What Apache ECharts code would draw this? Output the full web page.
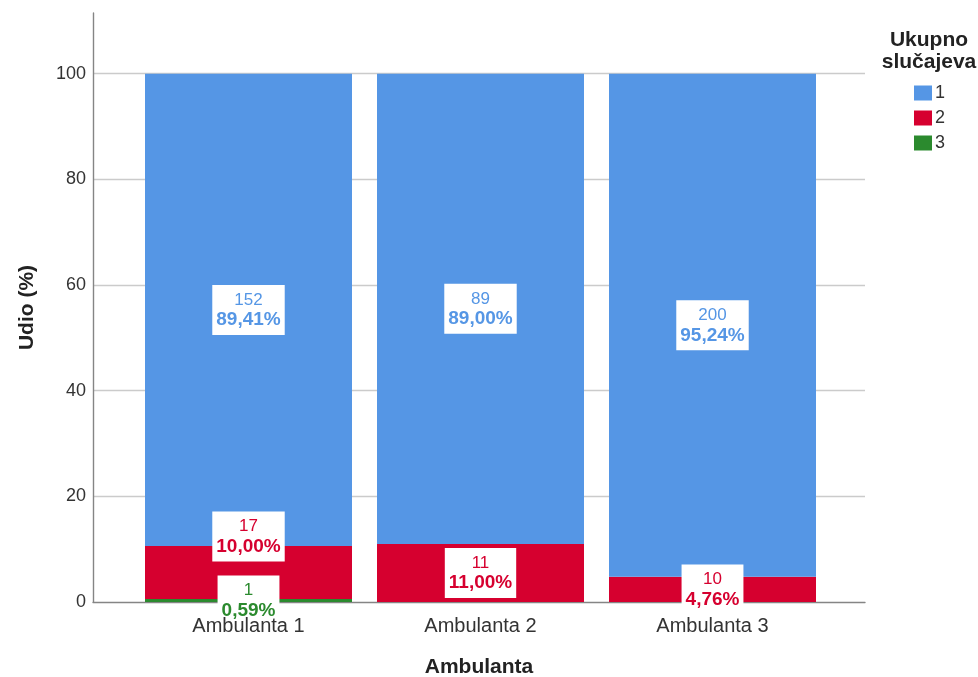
<!DOCTYPE html>
<html>
<head>
<meta charset="utf-8">
<script src="https://cdn.jsdelivr.net/npm/echarts@6/dist/echarts.min.js"></script>
<style>html,body{margin:0;padding:0;background:#fff}#c{width:978px;height:677px}</style>
</head>
<body>
<div id="c"></div>
<script>
var categories = ['Ambulanta 1', 'Ambulanta 2', 'Ambulanta 3'];
var legendNames = ['1', '2', '3'];
// percentages (Udio %) and counts per group
var pct1 = [89.41, 89.00, 95.24];
var cnt1 = [152, 89, 200];
var pct2 = [10.00, 11.00, 4.76];
var cnt2 = [17, 11, 10];
var pct3 = [0.59, null, null];
var cnt3 = [1, null, null];

var colors = {'1': '#5596e5', '2': '#d6002f', '3': '#2b8a2e'};
var FONT = 'Liberation Sans, Arial, sans-serif';
var YMAX = 111.5;

function fmtPct(v) { return v.toFixed(2).replace('.', ',') + '%'; }

function buildData(pcts, cnts, name) {
  var out = [];
  for (var i = 0; i < pcts.length; i++) {
    if (pcts[i] == null) { out.push('-'); continue; }
    var item = { value: pcts[i], cnt: cnts[i] };
    // SPSS moved this label up to avoid colliding with the tiny green one
    if (name === '2' && i === 0) item.label = { offset: [0, -36] };
    out.push(item);
  }
  return out;
}

function makeSeries(name, pcts, cnts) {
  var col = colors[name];
  return {
    name: name,
    type: 'bar',
    stack: 'total',
    xAxisIndex: 0,
    yAxisIndex: 0,
    barWidth: 207,
    itemStyle: { color: col },
    data: buildData(pcts, cnts, name),
    label: {
      show: true,
      position: 'inside',
      backgroundColor: '#ffffff',
      padding: [5, 4, 5, 4],
      formatter: function (p) {
        return '{c|' + p.data.cnt + '}\n{p|' + fmtPct(p.value) + '}';
      },
      rich: {
        c: { color: col, fontSize: 17, fontFamily: FONT, lineHeight: 20, align: 'center' },
        p: { color: col, fontSize: 19, fontWeight: 'bold', fontFamily: FONT, lineHeight: 20, align: 'center' }
      }
    },
    emphasis: { disabled: true }
  };
}

var chart = echarts.init(document.getElementById('c'));
chart.setOption({
  animation: false,
  backgroundColor: '#ffffff',
  textStyle: { fontFamily: FONT },
  grid: [
    { left: 132.5, right: 149.5, top: 13, bottom: 75, outerBoundsMode: 'none', containLabel: false },
    { left: 93, right: 113, top: 13, bottom: 75, outerBoundsMode: 'none', containLabel: false }
  ],
  title: {
    text: 'Ukupno\nslučajeva',
    left: 924, top: 24,
    textAlign: 'center',
    textStyle: { fontSize: 21, fontWeight: 'bold', color: '#222', fontFamily: FONT, lineHeight: 22 }
  },
  legend: {
    data: legendNames,
    orient: 'vertical',
    left: 909, top: 79,
    itemWidth: 18, itemHeight: 15, itemGap: 7,
    icon: 'rect',
    textStyle: { fontSize: 18, color: '#333', fontFamily: FONT, padding: [0, 0, 0, -2] },
    selectedMode: false
  },
  xAxis: [
    {
      gridIndex: 0,
      type: 'category',
      data: categories,
      z: 10,
      axisLine: { show: false },
      axisTick: { show: false },
      splitLine: { show: false },
      axisLabel: { fontSize: 20, color: '#333', margin: 14, fontFamily: FONT }
    },
    {
      gridIndex: 1,
      type: 'value',
      min: 0, max: 1,
      name: 'Ambulanta',
      nameLocation: 'middle',
      nameGap: 55,
      nameTextStyle: { fontSize: 21, fontWeight: 'bold', color: '#222', fontFamily: FONT },
      axisLine: { show: true, onZero: false, lineStyle: { color: '#858585', width: 1.4 } },
      axisTick: { show: false },
      splitLine: { show: false },
      axisLabel: { show: false }
    }
  ],
  yAxis: [
    {
      gridIndex: 0,
      type: 'value',
      min: 0, max: YMAX,
      show: false,
      splitLine: { show: false }
    },
    {
      gridIndex: 1,
      type: 'value',
      min: 0, max: YMAX,
      interval: 20,
      name: 'Udio (%)',
      nameLocation: 'middle',
      nameGap: 55,
      nameRotate: 90,
      nameTextStyle: { fontSize: 21, fontWeight: 'bold', color: '#222', fontFamily: FONT },
      axisLine: { show: true, onZero: false, lineStyle: { color: '#858585', width: 1.4 } },
      axisTick: { show: false },
      splitLine: { show: true, showMaxLine: false, showMinLine: false, lineStyle: { color: '#cbcbcb', width: 1.3 } },
      axisLabel: { showMaxLabel: false, fontSize: 18, color: '#333', margin: 7, fontFamily: FONT }
    }
  ],
  series: [
    makeSeries('3', pct3, cnt3),
    makeSeries('2', pct2, cnt2),
    makeSeries('1', pct1, cnt1)
  ]
});
</script>
</body>
</html>
